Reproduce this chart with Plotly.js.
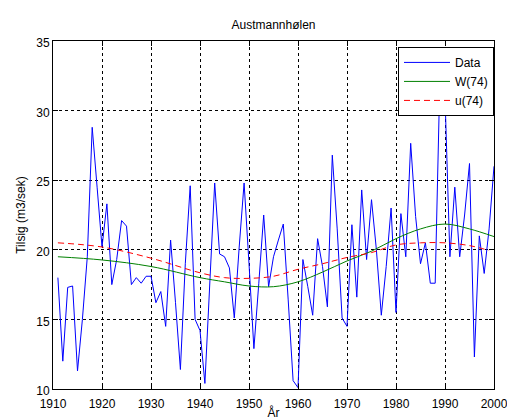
<!DOCTYPE html>
<html>
<head>
<meta charset="utf-8">
<script src="https://cdn.plot.ly/plotly-3.0.1.min.js"></script>
<style>html,body{margin:0;padding:0;background:#fff;}#chart{width:507px;height:420px;}</style>
</head>
<body>
<div id="chart"></div>
<script>
// Annual inflow data, 1911-2000
var years = [];
for (var y = 1911; y <= 2000; y++) years.push(y);
var dataValues = [
  18.0, 12.0, 17.3, 17.4, 11.3, 15.0, 19.5, 28.8, 24.5, 20.2,
  23.3, 17.5, 19.3, 22.1, 21.7, 17.5, 18.0, 17.6, 18.1, 18.1,
  16.2, 17.0, 14.5, 20.7, 16.2, 11.4, 19.0, 24.6, 15.0, 14.2,
  10.4, 18.1, 24.8, 19.7, 19.5, 18.7, 15.1, 20.2, 24.8, 19.0,
  12.9, 17.6, 22.5, 17.35, 19.5, 20.7, 21.85, 16.4, 10.6, 10.1,
  19.3, 17.35, 15.3, 20.8, 18.8, 15.9, 26.8, 21.5, 15.1, 14.5,
  21.8, 16.6, 24.3, 19.3, 23.6, 20.0, 15.3, 18.8, 23.0, 15.5,
  22.6, 19.5, 27.65, 22.4, 19.0, 20.5, 17.6, 17.6, 33.0, 31.0,
  19.5, 24.5, 19.5, 22.5, 26.2, 12.3, 21.0, 18.3, 21.5, 26.0
];
// Smooth curves read at 5-year knots
var wYears = [1911, 1920, 1930, 1940, 1945, 1950, 1955, 1960, 1965, 1970, 1975, 1980, 1985, 1990, 1995, 2000];
var wValues = [19.5, 19.27, 18.8, 18.0, 17.7, 17.4, 17.35, 17.7, 18.4, 19.2, 19.9, 20.8, 21.5, 21.85, 21.5, 20.95];
var uYears = [1911, 1920, 1930, 1940, 1945, 1950, 1955, 1960, 1965, 1970, 1975, 1980, 1985, 1990, 1995, 1999];
var uValues = [20.5, 20.2, 19.4, 18.35, 18.0, 17.95, 18.1, 18.6, 19.0, 19.45, 19.8, 20.35, 20.5, 20.5, 20.3, 19.95];
var xTicks = [1910, 1920, 1930, 1940, 1950, 1960, 1970, 1980, 1990, 2000];
var yTicks = [10, 15, 20, 25, 30, 35];

var font = "Liberation Sans, Arial, sans-serif";
var traces = [
  {x: years, y: dataValues, type: 'scatter', mode: 'lines', name: 'Data',
   line: {color: '#0000ff', width: 1}},
  {x: wYears, y: wValues, type: 'scatter', mode: 'lines', name: 'W(74)',
   line: {color: '#008000', width: 1, shape: 'spline'}},
  {x: uYears, y: uValues, type: 'scatter', mode: 'lines', name: 'u(74)',
   line: {color: '#ff0000', width: 1, shape: 'spline', dash: '6px,4px'}}
];
var axisCommon = {
  showline: true, linecolor: '#000', linewidth: 1, mirror: 'ticks',
  ticks: 'inside', ticklen: 5, tickcolor: '#000',
  showgrid: true, gridcolor: '#000', gridwidth: 1, griddash: '3px,3px',
  zeroline: false, tickfont: {family: font, size: 12, color: '#000'},
  automargin: false, ticklabeloverflow: 'allow'
};
var layout = {
  width: 507, height: 420,
  margin: {l: 53, r: 13, t: 41, b: 31},
  paper_bgcolor: '#fff', plot_bgcolor: '#fff',
  title: {text: 'Austmannhølen', font: {family: font, size: 12, color: '#000'},
          x: 0.5, xref: 'paper', y: 0.94, yref: 'container', yanchor: 'middle'},
  xaxis: Object.assign({}, axisCommon, {range: [1910, 2000], tickvals: xTicks,
          ticktext: xTicks.map(String), ticklabelstandoff: 4,
          title: {text: 'År', font: {family: font, size: 12, color: '#000'}, standoff: 1}}),
  yaxis: Object.assign({}, axisCommon, {range: [10, 35], tickvals: yTicks,
          ticktext: yTicks.map(String), ticklabelshift: 2,
          title: {text: 'Tilsig (m3/sek)', font: {family: font, size: 12, color: '#000'}, standoff: 8}}),
  legend: {x: 1, xanchor: 'right', y: 0.983, yanchor: 'top',
           bgcolor: '#fff', bordercolor: '#000', borderwidth: 1, itemwidth: 46,
           font: {family: font, size: 12, color: '#000'}, tracegroupgap: 0},
  showlegend: true
};
Plotly.newPlot('chart', traces, layout, {staticPlot: true, displayModeBar: false});
</script>
</body>
</html>
